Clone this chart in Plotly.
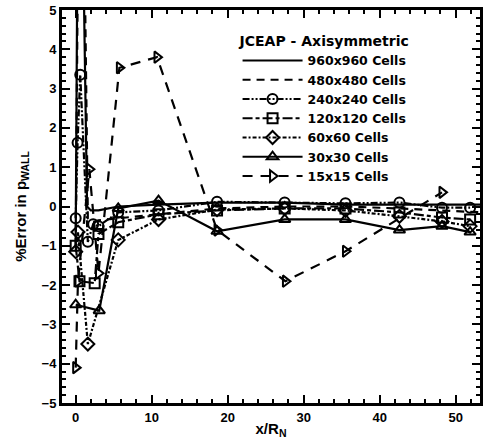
import plotly.graph_objects as go

# ---- data ----
x_960 = [0, 0.3, 0.8, 1.5, 2.0, 3.0, 5.6, 10.9, 18.6, 27.5, 35.5, 42.6, 48.2, 53.5]
y_960 = [-1.0, 9.0, 9.0, 0.0, -0.1, -0.1, 0.0, 0.05, 0.1, 0.1, 0.05, 0.05, 0.05, 0.05]

x_480 = [0, 0.4, 1.0, 1.6, 2.2, 3.0, 5.6, 10.9, 18.6, 27.5, 35.5, 42.6, 48.2, 53.5]
y_480 = [-1.0, 9.0, 9.0, -0.3, -0.4, -0.35, -0.3, -0.2, -0.05, 0.0, 0.0, -0.05, -0.1, -0.15]

x_240 = [0, 0.25, 0.6, 1.6, 2.3, 3.0, 5.6, 10.9, 18.6, 27.5, 35.5, 42.6, 48.2, 51.9]
y_240 = [-0.3, 1.62, 3.35, -0.9, -0.45, -0.5, -0.15, -0.1, 0.12, 0.1, 0.08, 0.1, -0.03, -0.03]

x_120 = [0, 0.5, 2.5, 3.0, 5.6, 10.9, 18.6, 27.5, 35.5, 42.6, 48.2, 51.9]
y_120 = [-1.0, -1.9, -1.95, -0.7, -0.4, -0.2, -0.1, -0.05, -0.05, -0.15, -0.28, -0.33]

x_60 = [0, 0.3, 1.6, 5.6, 10.9, 18.6, 27.5, 35.5, 42.6, 48.2, 51.9]
y_60 = [-1.15, -0.65, -3.5, -0.85, -0.33, -0.08, -0.05, -0.1, -0.25, -0.38, -0.5]

x_30 = [0, 3.1, 5.6, 10.9, 18.6, 27.5, 35.5, 42.6, 48.2, 51.9]
y_30 = [-2.5, -2.65, -0.05, 0.15, -0.63, -0.33, -0.33, -0.6, -0.5, -0.65]

x_15 = [0, 0.3, 1.8, 3.0, 5.75, 10.7, 18.6, 27.6, 35.5, 48.2]
y_15 = [-4.1, -1.9, 0.95, -1.7, 3.53, 3.8, -0.6, -1.9, -1.14, 0.36]

names = ["960x960 Cells", "480x480 Cells", "240x240 Cells", "120x120 Cells",
         "60x60 Cells", "30x30 Cells", "15x15 Cells"]

series = [
    (x_960, y_960, "solid", None),
    (x_480, y_480, "8px,6px", None),
    (x_240, y_240, "7px,2px,2px,2px,2px,2px", "circle-open"),
    (x_120, y_120, "10px,3px,4px,3px", "square-open"),
    (x_60, y_60, "4px,2px,2px,2px", "diamond-open"),
    (x_30, y_30, "solid", "triangle-up-open"),
    (x_15, y_15, "10px,8px", "triangle-right-open"),
]

fig = go.Figure()
for (xs, ys, dash, sym), nm in zip(series, names):
    mode = "lines+markers" if sym else "lines"
    kw = {}
    if sym:
        kw["marker"] = dict(symbol=sym, size=10, color="black",
                            line=dict(color="black", width=2))
    fig.add_trace(go.Scatter(x=xs, y=ys, mode=mode, name="<b>" + nm + "</b>",
                             line=dict(color="black", width=2.2, dash=dash),
                             cliponaxis=True, **kw))

font = "Liberation Sans, Arial, sans-serif"
lfont = "DejaVu Sans, Liberation Sans, sans-serif"
fig.update_layout(
    width=486, height=444,
    margin=dict(l=62, r=3, t=10, b=41),
    paper_bgcolor="white", plot_bgcolor="white",
    font=dict(family=font, color="black"),
    showlegend=True,
    legend=dict(
        title=dict(text="<b>JCEAP - Axisymmetric</b>", font=dict(size=14, family=lfont)),
        x=0.42, y=0.955, xanchor="left", yanchor="top",
        bgcolor="rgba(0,0,0,0)", font=dict(size=12.5, family=lfont),
        tracegroupgap=0, itemwidth=60,
    ),
    xaxis=dict(
        range=[-1.8, 53.2], tickmode="array",
        tickvals=[0, 10, 20, 30, 40, 50],
        ticks="inside", ticklen=8, tickwidth=2, tickcolor="black",
        minor=dict(dtick=2, ticks="inside", ticklen=4, tickwidth=1.5, tickcolor="black", tick0=0),
        showline=True, linewidth=3, linecolor="black", mirror="allticks",
        showgrid=False, zeroline=False,
        tickfont=dict(size=13, weight="bold"),
        title=dict(text="<b>x/R<sub>N</sub></b>", font=dict(size=15), standoff=0),
    ),
    yaxis=dict(
        range=[-5, 5], dtick=1, tick0=0,
        ticks="inside", ticklen=8, tickwidth=2, tickcolor="black",
        minor=dict(dtick=0.2, ticks="inside", ticklen=4, tickwidth=1.5, tickcolor="black"),
        showline=True, linewidth=3, linecolor="black", mirror="allticks",
        showgrid=False, zeroline=False,
        tickfont=dict(size=13, weight="bold"),
        title=dict(text="<b>%Error in p<sub>WALL</sub></b>", font=dict(size=15), standoff=12),
    ),
)

fig.write_html("out.html")
